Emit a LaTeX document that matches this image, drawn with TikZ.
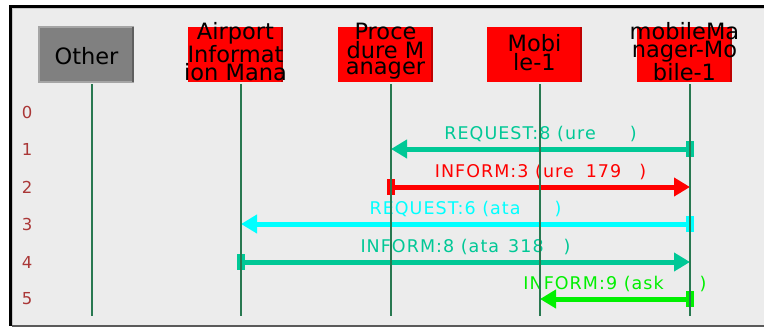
\documentclass[tikz,border=0pt]{standalone}
\usepackage{fontspec}
\setmainfont{DejaVu Sans}
\newfontfamily\msgfont{DejaVu Sans}[LetterSpace=6]
\usetikzlibrary{arrows.meta,calc}

\definecolor{panelbg}{RGB}{236,236,236}
\definecolor{panelline}{RGB}{200,200,200}
\definecolor{panelfoot}{RGB}{90,90,90}
\definecolor{lifegreen}{RGB}{40,120,80}
\definecolor{rownum}{RGB}{170,55,55}
\definecolor{msgteal}{RGB}{0,200,150}
\definecolor{msgred}{RGB}{255,0,0}
\definecolor{msgcyan}{RGB}{0,255,255}
\definecolor{msggreen}{RGB}{0,240,0}
\definecolor{boxgray}{RGB}{128,128,128}
\definecolor{boxlight}{RGB}{165,165,165}
\definecolor{boxdark}{RGB}{95,95,95}
\definecolor{boxred}{RGB}{255,0,0}
\definecolor{edgered}{RGB}{190,0,0}

\begin{document}
\begin{tikzpicture}[x=1pt,y=-1pt,
  hbox/.style={minimum width=95pt,minimum height=55pt,inner sep=0pt,outer sep=0pt},
  htext/.style={font=\fontsize{22.5}{16.5}\selectfont,align=center,inner sep=0pt,text=black},
  rowlabel/.style={font=\fontsize{16.5}{16.5}\selectfont,text=rownum,inner sep=0pt},
  msglabel/.style={font={\msgfont\fontsize{17.5}{17.5}\selectfont},inner sep=0pt},
  lifeline/.style={draw=lifegreen,line width=1.5pt},
  msgline/.style={line width=5pt,{Rectangle[length=8pt,width=16pt]}-{Triangle[length=16pt,width=18pt]}}
]
\useasboundingbox (0,0) rectangle (764,327);

% panel frame
\fill[white] (0,0) rectangle (764,327);
\fill[panelbg] (12,8) rectangle (764,325);
\fill[black] (9,5) rectangle (764,8);
\fill[black] (9,5) rectangle (12,326);
\draw[panelline,line width=1pt] (12.5,325) -- (12.5,8.5) -- (764,8.5);
\fill[panelfoot] (12,325) rectangle (764,327);

% lifeline tops and row positions
\coordinate (lother) at (92,84);
\coordinate (lair)   at (241,84);
\coordinate (lproc)  at (391,84);
\coordinate (lmob)   at (540,84);
\coordinate (lmm)    at (690,84);
\coordinate (rend) at (0,316);
\coordinate (r0) at (0,112);
\coordinate (r1) at (0,149);
\coordinate (r2) at (0,187);
\coordinate (r3) at (0,224);
\coordinate (r4) at (0,262);
\coordinate (r5) at (0,299);

% header boxes
\node[hbox,fill=boxgray] (otherbox) at ($(lother)+(-5.5,-29.5)$) {};
\draw[boxlight,line width=1.5pt] (otherbox.south east) -- (otherbox.south west) -- (otherbox.north west) -- (otherbox.north east);
\draw[boxdark,line width=2pt] ($(otherbox.north east)+(-1,0)$) -- ($(otherbox.south east)+(-1,0)$);
\foreach \n in {air,proc,mob,mm}{
  \node[hbox,fill=boxred] (\n box) at ($(l\n)+(-5.5,-29.5)$) {};
  \draw[edgered,line width=2pt] ($(\n box.north east)+(-1,0)$) -- ($(\n box.south east)+(-1,0)$);
}
\node[htext] (othertext) at ($(otherbox)+(0,1.5)$) {Other};
\node[htext] (airtext)  at ($(airbox)+(0,-3)$) {Airport\\Informat\\ion Mana};
\node[htext] (proctext) at ($(procbox)+(0,-3)$) {Proce\\dure M\\anager};
\node[htext] (mobtext)  at ($(mobbox)+(0,-2)$) {Mobi\\le-1};
\node[htext] (mmtext)   at ($(mmbox)+(0,-3)$) {mobileMa\\nager-Mo\\bile-1};

% row numbers
\foreach \k in {0,...,5}{
  \node[rowlabel] (n\k) at ($(r\k)+(27,0)$) {\k};
}

% messages
\draw[msgline,msgteal]  ($(lmm|-r1)+(4,0)$)   -- (lproc|-r1);
\draw[msgline,msgred]   ($(lproc|-r2)+(-4,0)$) -- (lmm|-r2);
\draw[msgline,msgcyan]  ($(lmm|-r3)+(4,0)$)   -- (lair|-r3);
\draw[msgline,msgteal]  ($(lair|-r4)+(-4,0)$) -- (lmm|-r4);
\draw[msgline,msggreen] ($(lmm|-r5)+(4,0)$)   -- (lmob|-r5);

\node[msglabel,text=msgteal]  (m1) at ($(lmm|-r1)!0.5!(lproc|-r1)+(0,-15)$) {REQUEST:8 (ure\hspace{34pt})};
\node[msglabel,text=msgred]   (m2) at ($(lmm|-r2)!0.5!(lproc|-r2)+(0,-15)$) {INFORM:3 (ure\hspace{12pt}179\hspace{18pt})};
\node[msglabel,text=msgcyan]  (m3) at ($(lmm|-r3)!0.5!(lair|-r3)+(0,-15)$)  {REQUEST:6 (ata\hspace{34pt})};
\node[msglabel,text=msgteal]  (m4) at ($(lmm|-r4)!0.5!(lair|-r4)+(0,-15)$)  {INFORM:8 (ata\hspace{9pt}318\hspace{20pt})};
\node[msglabel,text=msggreen] (m5) at ($(lmm|-r5)!0.5!(lmob|-r5)+(0,-15)$)  {INFORM:9 (ask\hspace{36pt})};

% lifelines on top
\foreach \n in {other,air,proc,mob,mm}{
  \draw[lifeline] (l\n) -- (l\n|-rend);
}
\end{tikzpicture}
\end{document}
